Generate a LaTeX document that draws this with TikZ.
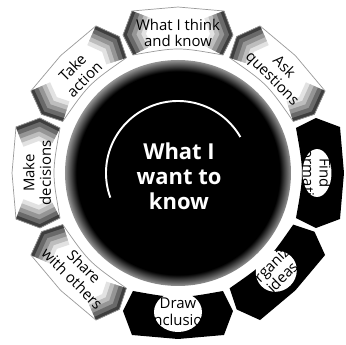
\documentclass[tikz,border=0pt]{standalone}
\usepackage{fontspec}
\setmainfont{Open Sans}
\usepackage{tikz}
\usetikzlibrary{shapes.geometric}

\definecolor{diskbg}{HTML}{000000}
\definecolor{shadeone}{HTML}{E2E2E2}
\definecolor{shadetwo}{HTML}{BDBDBD}
\definecolor{shadethree}{HTML}{959595}
\definecolor{shadefour}{HTML}{6A6A6A}
\definecolor{shadefive}{HTML}{3E3E3E}
\definecolor{edgefg}{HTML}{9A9A9A}

\pgfdeclareradialshading{diskshade}{\pgfpoint{0bp}{0bp}}{color(0bp)=(diskbg); color(22.5bp)=(diskbg); color(25bp)=(shadethree); color(50bp)=(shadethree)}

\newcommand{\toothpath}{(118,-45) .. controls (126,0) .. (118,45) -- (138,55) -- (162,46) -- (166,0) -- (162,-46) -- (138,-55) -- cycle}
\newcommand{\toothsides}{(118,45) -- (138,55) -- (162,46) (118,-45) -- (138,-55) -- (162,-46)}

\newcommand{\lighttooth}[1]{%
  \begin{scope}[rotate=#1]
    \fill[white] \toothpath;
    \begin{scope}
      \clip \toothpath;
      \draw[line width=24pt, line join=round, shadeone] \toothsides;
      \draw[line width=19pt, line join=round, shadetwo] \toothsides;
      \draw[line width=14pt, line join=round, shadethree] \toothsides;
      \draw[line width=9pt, line join=round, shadefour] \toothsides;
      \draw[line width=4pt, line join=round, shadefive] \toothsides;
    \end{scope}
    \draw[edgefg, line width=0.4pt] \toothpath;
  \end{scope}}
\newcommand{\darktooth}[1]{%
  \begin{scope}[rotate=#1]
    \fill[diskbg] \toothpath;
  \end{scope}}

\begin{document}
\begin{tikzpicture}[x=0.02cm, y=0.02cm,
    lbl/.style = {align=center, inner sep=0pt, font=\fontsize{8.5}{9.5}\selectfont},
    blob/.style = {ellipse, fill=white, inner sep=0pt, minimum width=0.96cm, minimum height=0.7cm},
    want/.style = {align=center, inner sep=0pt, text=white, font=\bfseries\fontsize{12.5}{14.2}\selectfont}]

\useasboundingbox (-178,-172) rectangle (168,173);

\shade[shading=diskshade] (0,0) circle (113);
\draw[white, line width=1.1pt] (200:72) arc[start angle=200, end angle=30, radius=72];

\lighttooth{90}
\lighttooth{45}
\darktooth{0}
\darktooth{-45}
\darktooth{-90}
\lighttooth{-135}
\lighttooth{180}
\lighttooth{135}

\node[want] (want) at (1,-3) {What I\\want to\\know};

\node[lbl] (think) at (90:140) {What I think\\and know};
\node[lbl, rotate=-45] (ask) at (45:141) {Ask\\questions};
\node[blob, rotate=-90, minimum height=0.58cm] (findbg) at (0:139) {};
\node[lbl, rotate=-90] (find) at (findbg) {Find\\information};
\node[blob, rotate=45, minimum width=0.84cm, minimum height=0.8cm] (organizebg) at (-45:139) {};
\node[lbl, rotate=45] (organize) at (organizebg) {Organize\\ideas};
\node[blob, minimum height=0.8cm] (drawbg) at (-90:139) {};
\node[lbl] (draw) at (drawbg) {Draw\\conclusions};
\node[lbl, rotate=-45] (share) at (-135:141) {Share\\with others};
\node[lbl, rotate=90] (decide) at (180:141) {Make\\decisions};
\node[lbl, rotate=45] (act) at (135:141) {Take\\action};

\end{tikzpicture}
\end{document}
